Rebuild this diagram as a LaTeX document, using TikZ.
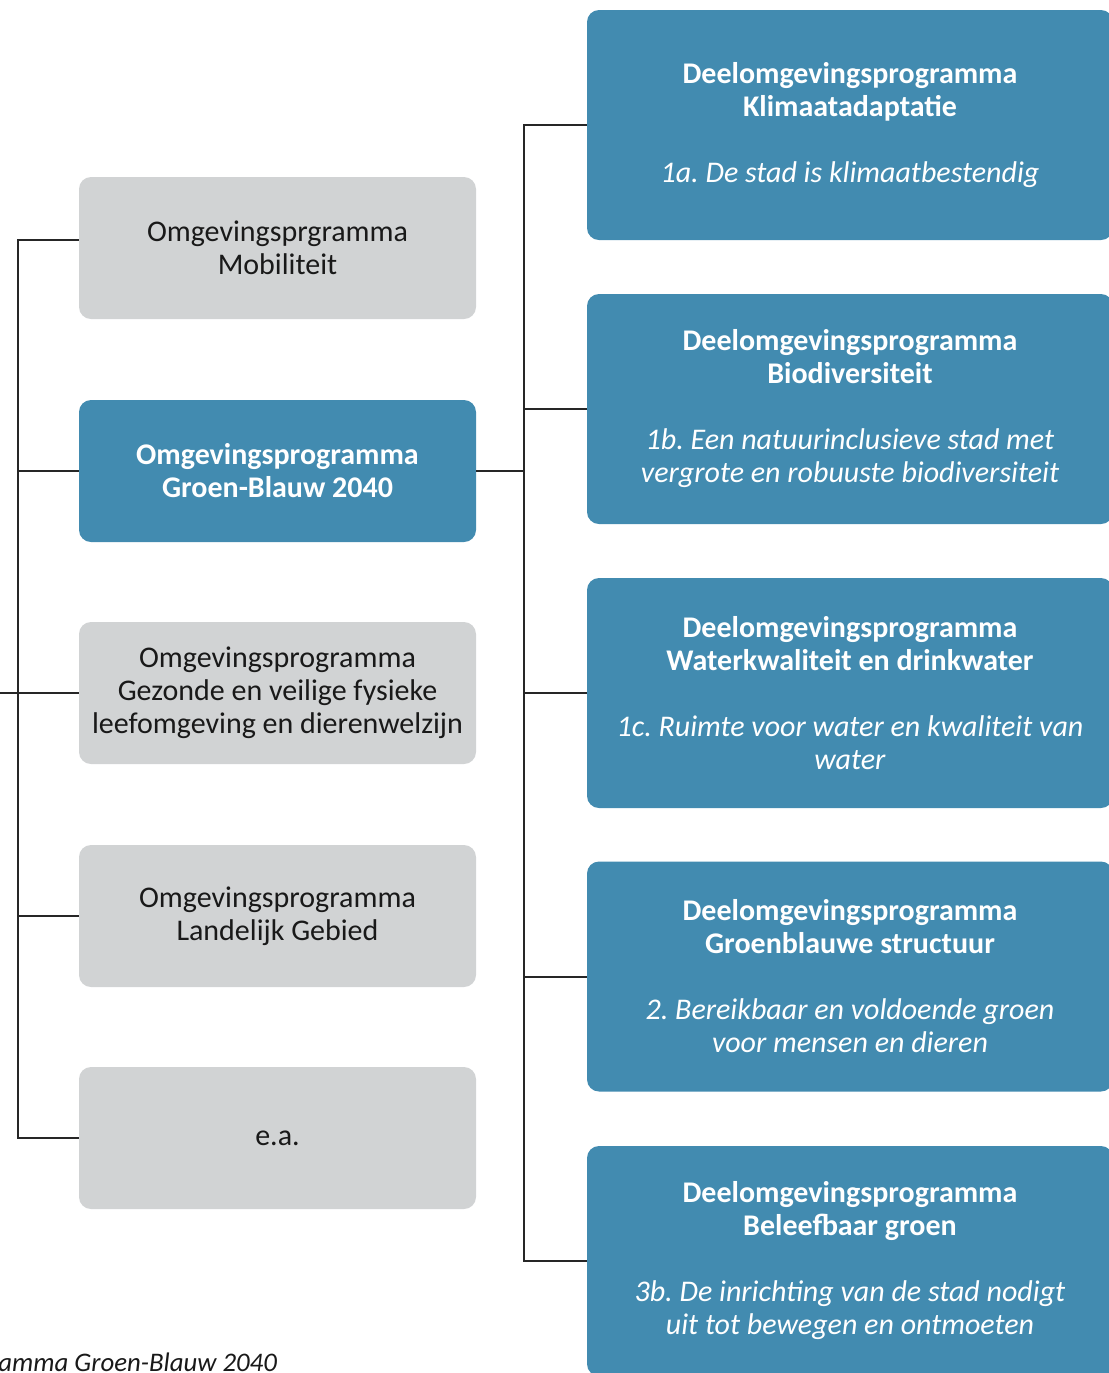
\documentclass[tikz,border=0pt]{standalone}
\usepackage{fontspec}
\setmainfont{Carlito}
\frenchspacing
\definecolor{progblue}{HTML}{428BB0}
\definecolor{proggray}{HTML}{D1D3D4}
\tikzset{
	progbox/.style={fill=proggray, rounded corners=6pt, minimum width=198.5pt, minimum height=71pt, align=center, text=black!90, font=\fontsize{15}{16.5}\selectfont},
	mainbox/.style={progbox, fill=progblue, text=white, font=\fontsize{15}{16.5}\selectfont\bfseries},
	deelbox/.style={fill=progblue, rounded corners=6pt, minimum width=263pt, minimum height=115pt, align=center, text=white, font=\fontsize{15}{16.5}\selectfont},
	tree/.style={draw=black!85, line width=1pt}
}
\begin{document}
\begin{tikzpicture}[x=0.5pt,y=-0.5pt]
		\useasboundingbox (0,0) rectangle (1109,1373);
		\clip (0,0) rectangle (1109,1373);
		\node[progbox] (mobiliteit) at (277.5,248) {Omgevingsprgramma\\Mobiliteit};
		\node[mainbox] (groenblauw) at (277.5,471) {Omgevingsprogramma\\Groen-Blauw 2040};
		\node[progbox] (gezond) at (277.5,693) {Omgevingsprogramma\\Gezonde en veilige fysieke\\leefomgeving en dierenwelzijn};
		\node[progbox] (landelijk) at (277.5,916) {Omgevingsprogramma\\Landelijk Gebied};
		\node[progbox] (ea) at (277.5,1138) {e.a.};
		\node[deelbox] (klimaat) at (850,125) {\textbf{Deelomgevingsprogramma}\\\textbf{Klimaatadaptatie}\\[16.5pt]\textit{1a. De stad is klimaatbestendig}};
		\node[deelbox] (bio) at (850,409) {\textbf{Deelomgevingsprogramma}\\\textbf{Biodiversiteit}\\[16.5pt]\textit{1b. Een natuurinclusieve stad met}\\\textit{vergrote en robuuste biodiversiteit}};
		\node[deelbox] (water) at (850,693) {\textbf{Deelomgevingsprogramma}\\\textbf{Waterkwaliteit en drinkwater}\\[16.5pt]\textit{1c. Ruimte voor water en kwaliteit van}\\\textit{water}};
		\node[deelbox] (structuur) at (850,976.5) {\textbf{Deelomgevingsprogramma}\\\textbf{Groenblauwe structuur}\\[16.5pt]\textit{2. Bereikbaar en voldoende groen}\\\textit{voor mensen en dieren}};
		\node[deelbox] (beleef) at (850,1261) {\textbf{Deelomgevingsprogramma}\\\textbf{Beleefbaar groen}\\[16.5pt]\textit{3b. De inrichting van de stad nodigt}\\\textit{uit tot bewegen en ontmoeten}};
		\node[anchor=base west, font=\fontsize{13.4}{15}\selectfont\itshape, text=black!90, inner sep=0pt] (caption) at (-2,1371) {amma Groen-Blauw 2040};
		\coordinate (ltop) at (18,240);
		\coordinate (lbot) at (18,1138);
		\coordinate (lout) at (-5,693);
		\coordinate (rtop) at (524,125);
		\coordinate (rbot) at (524,1261);
		\draw[tree] ([yshift=4pt]mobiliteit.west) -- (ltop) -- (lbot) -- (ea.west);
		\draw[tree] (groenblauw.west) -- (groenblauw.west -| ltop);
		\draw[tree] (gezond.west) -- (lout);
		\draw[tree] (landelijk.west) -- (landelijk.west -| ltop);
		\draw[tree] (groenblauw.east) -- (groenblauw.east -| rtop);
		\draw[tree] (klimaat.west) -- (rtop) -- (rbot) -- (beleef.west);
		\draw[tree] (bio.west) -- (bio.west -| rtop);
		\draw[tree] (water.west) -- (water.west -| rtop);
		\draw[tree] (structuur.west) -- (structuur.west -| rtop);
	\end{tikzpicture}
\end{document}
